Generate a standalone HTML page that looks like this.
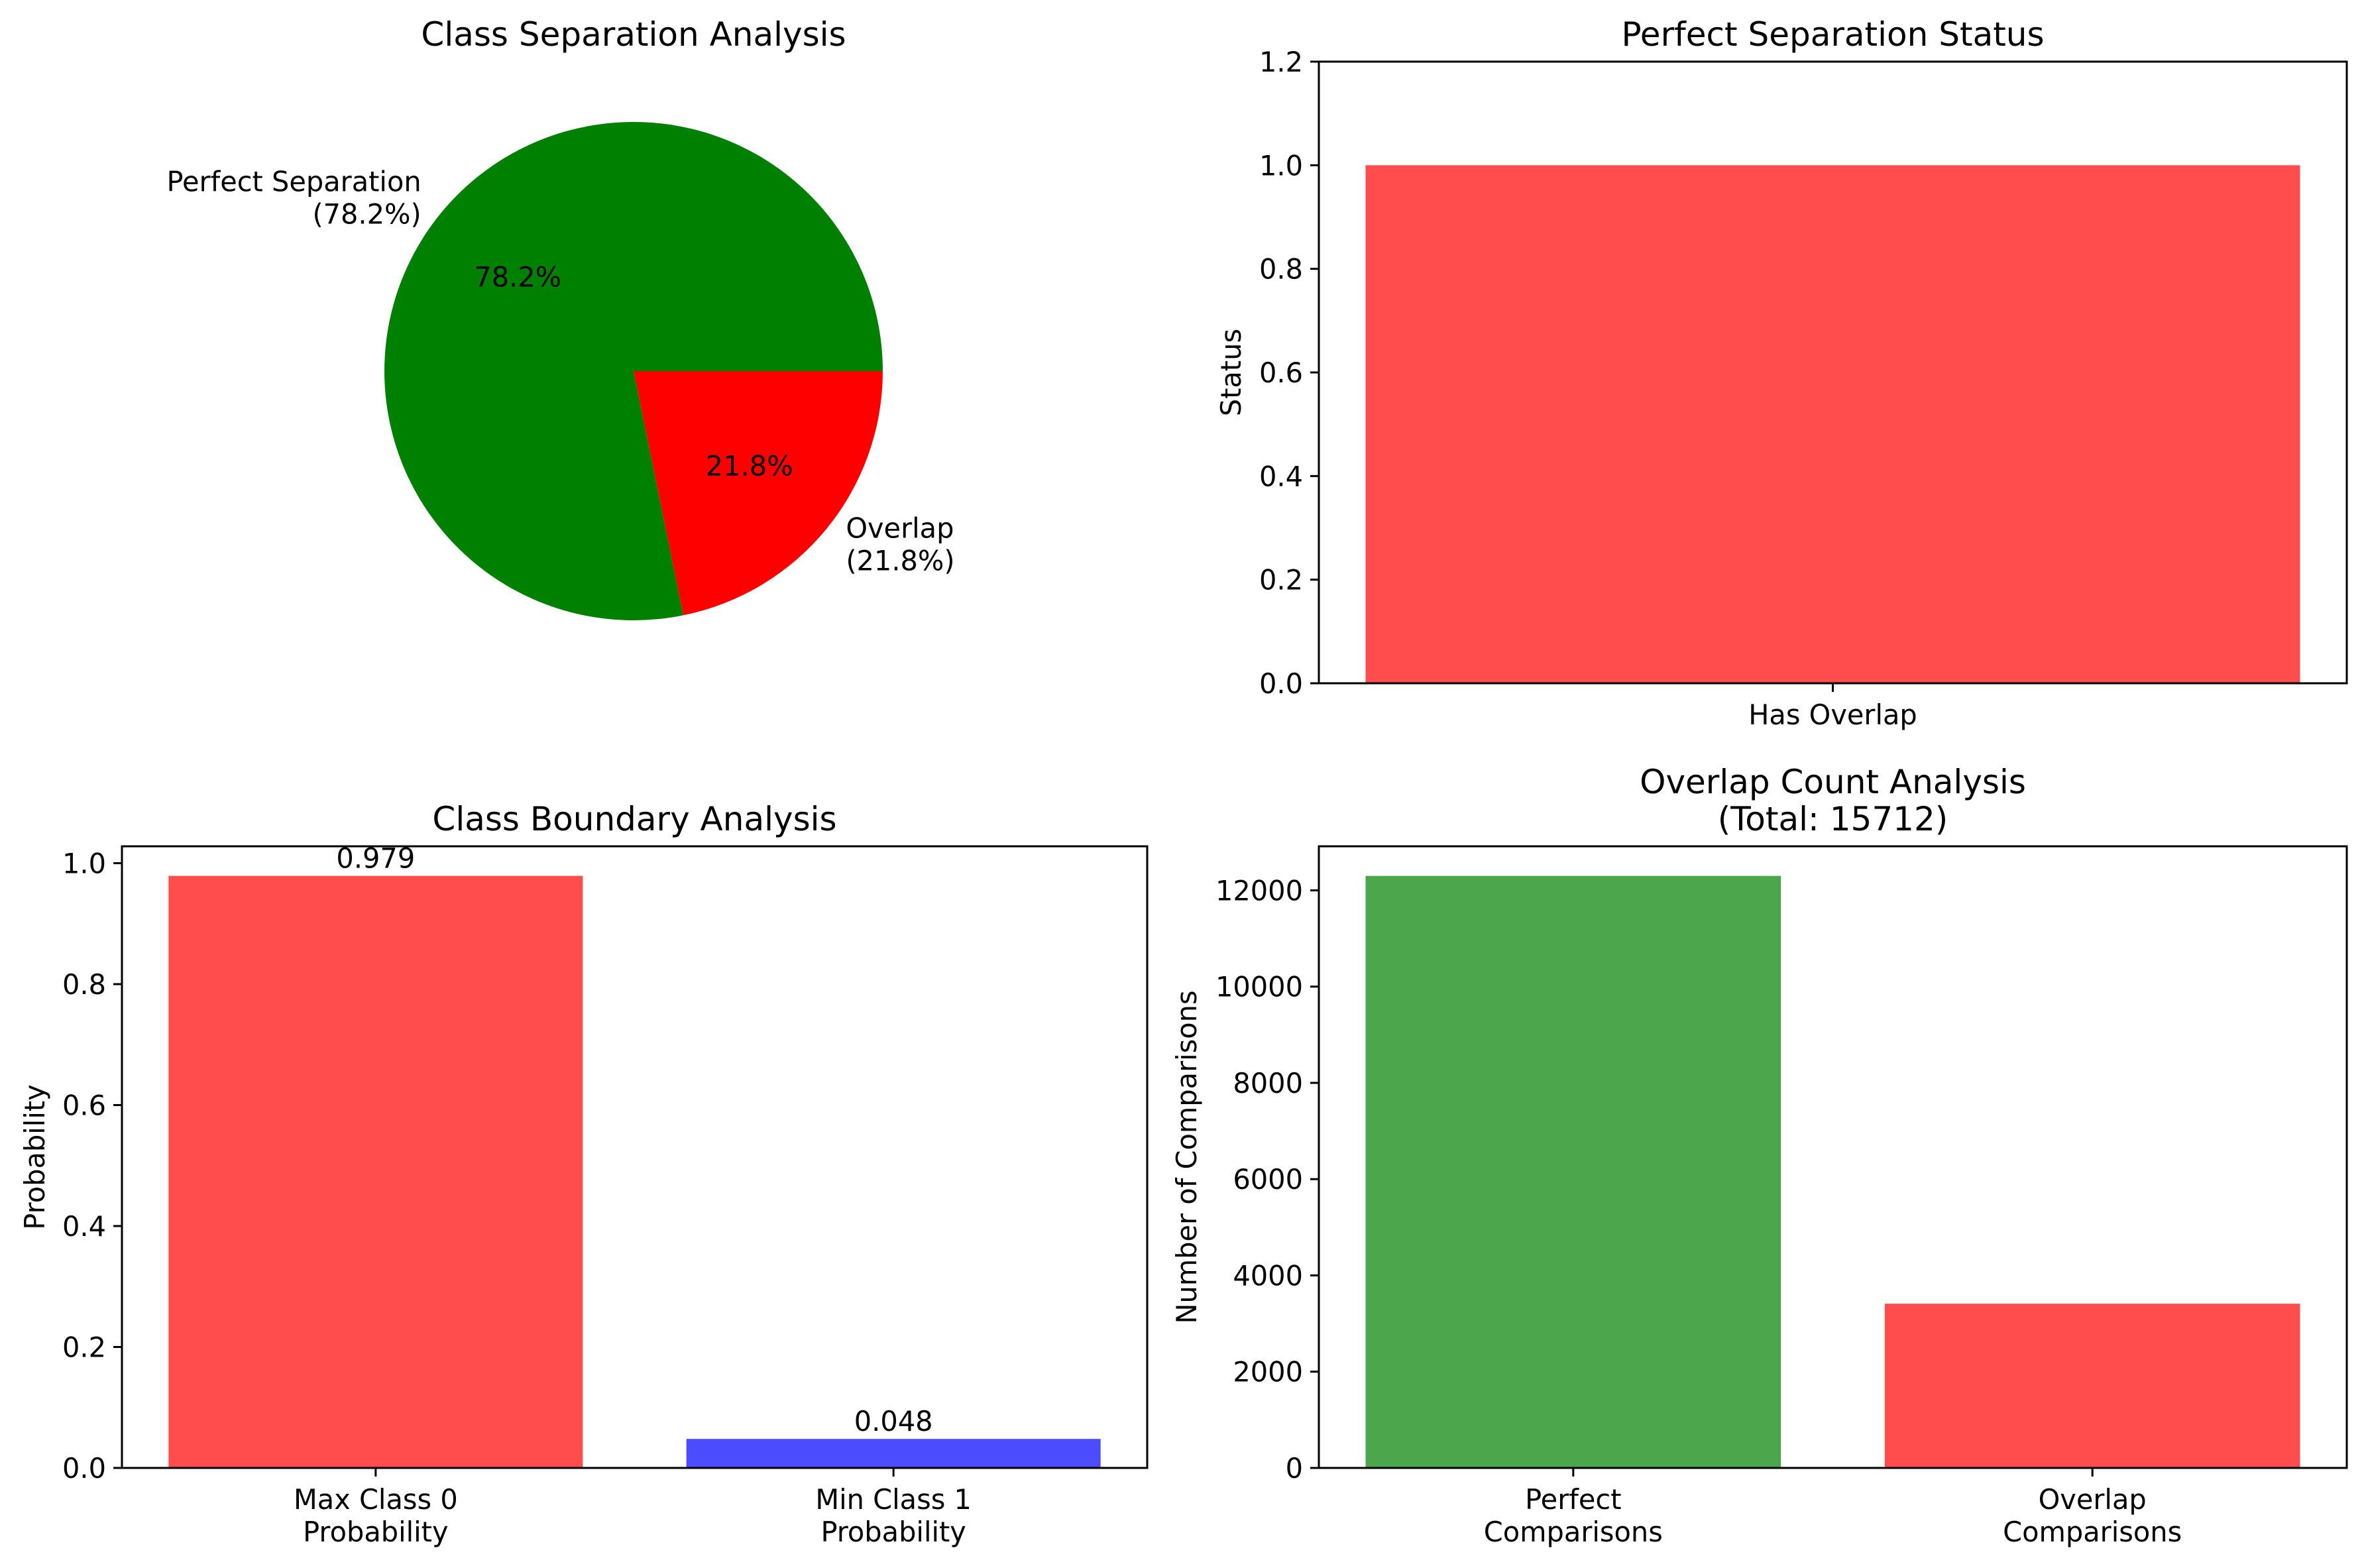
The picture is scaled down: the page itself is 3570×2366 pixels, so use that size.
<!DOCTYPE html>
<html><head><meta charset="utf-8"><style>
html,body{margin:0;padding:0;background:#fff;}
svg{display:block;font-family:"DejaVu Sans","Liberation Sans",sans-serif;}
</style></head><body>
<svg id="fig" xmlns="http://www.w3.org/2000/svg" width="3570" height="2366" viewBox="0 0 3570 2366">
<rect width="3570" height="2366" fill="#fff"/>
</svg>
<script>
// Pie data
const pieLabels = ["Perfect Separation", "Overlap"];
const pieValues = [78.2, 21.8];
const pieColors = ["#008000", "#ff0000"];
// Top-right data
const statusCats = ["Has Overlap"];
const statusVals = [1.0];
const statusTicks = [0, 0.2, 0.4, 0.6, 0.8, 1.0, 1.2];
// Bottom-left data
const boundCats = [["Max Class 0","Probability"],["Min Class 1","Probability"]];
const boundVals = [0.979, 0.048];
const boundLabels = ["0.979", "0.048"];
const boundTicks = [0, 0.2, 0.4, 0.6, 0.8, 1.0];
// Bottom-right data
const countCats = [["Perfect","Comparisons"],["Overlap","Comparisons"]];
const countVals = [12300, 3412];
const countTicks = [0, 2000, 4000, 6000, 8000, 10000, 12000];

const NS = "http://www.w3.org/2000/svg";
const svg = document.getElementById("fig");
function el(tag, attrs, parent, text) {
  const e = document.createElementNS(NS, tag);
  for (const k in attrs) e.setAttribute(k, attrs[k]);
  if (text !== undefined) e.textContent = text;
  (parent || svg).appendChild(e);
  return e;
}
const TF = 41.5, TTF = 50;

function barChart(o) {
  const g = el("g", {});
  
  
  const L = o.x0, R = o.x1, T = o.y0, B = o.y1;
  const n = o.vals.length;
  const xmin = -0.4 - 0.05 * (n - 1 + 0.8), xmax = n - 1 + 0.4 + 0.05 * (n - 1 + 0.8);
  const xs = v => L + (v - xmin) / (xmax - xmin) * (R - L);
  const ys = v => B - v / o.ymax * (B - T);
  o.vals.forEach((v, i) => {
    const r = el("rect", {x: xs(i - 0.4), y: ys(v), width: xs(i + 0.4) - xs(i - 0.4), height: B - ys(v), fill: o.colors[i]}, g);
    
    
    if (o.valLabels) {
      const t = el("text", {x: xs(i), y: ys(v) - 12, "text-anchor": "middle", "font-size": TF}, g, o.valLabels[i]);
      
      
    }
    const lines = Array.isArray(o.cats[i]) ? o.cats[i] : [o.cats[i]];
    el("line", {x1: xs(i), x2: xs(i), y1: B, y2: B + 13, stroke: "#000", "stroke-width": 3}, g);
    lines.forEach((ln, j) => {
      const t = el("text", {x: xs(i), y: B + 62 + j * 49, "text-anchor": "middle", "font-size": TF}, g, ln);
      
      
    });
  });
  o.ticks.forEach(tv => {
    const y = ys(tv);
    el("line", {x1: L - 13, x2: L, y1: y, y2: y, stroke: "#000", "stroke-width": 3}, g);
    const t = el("text", {x: L - 24, y: y + 15, "text-anchor": "end", "font-size": TF}, g, o.fmt(tv));
    
    
  });
  el("rect", {x: L, y: T, width: R - L, height: B - T, fill: "none", stroke: "#000", "stroke-width": 3}, g);
  const yl = el("text", {x: o.ylx, y: (T + B) / 2, "text-anchor": "middle", "font-size": TF, transform: `rotate(-90 ${o.ylx} ${(T + B) / 2})`}, g, o.ylabel);
  
  
  o.title.forEach((tl, j) => {
    const t = el("text", {x: (L + R) / 2, y: T - 24 - (o.title.length - 1 - j) * 56, "text-anchor": "middle", "font-size": TTF}, g, tl);
    
    
  });
}

// Pie
(function(){
  const g = el("g", {});
  
  
  const cx = 956, cy = 560, r = 376;
  const total = pieValues.reduce((a, b) => a + b, 0);
  let a0 = 0;
  pieValues.forEach((v, i) => {
    const a1 = a0 + v / total * 360;
    const p = a => [cx + r * Math.cos(a * Math.PI / 180), cy - r * Math.sin(a * Math.PI / 180)];
    const s = p(a0), e = p(a1);
    const large = (a1 - a0) > 180 ? 1 : 0;
    const path = el("path", {d: `M${cx},${cy} L${s[0]},${s[1]} A${r},${r} 0 ${large} 0 ${e[0]},${e[1]} Z`, fill: pieColors[i]}, g);
    
    
    const mid = (a0 + a1) / 2 * Math.PI / 180;
    const c = Math.cos(mid), sn = Math.sin(mid);
    const pct = (v / total * 100).toFixed(1) + "%";
    const pt = el("text", {x: cx + 0.6 * r * c, y: cy - 0.6 * r * sn + 15, "text-anchor": "middle", "font-size": TF}, g, pct);
    
    
    const lx = cx + 1.1 * r * c, ly = cy - 1.1 * r * sn;
    const anchor = c < 0 ? "end" : "start";
    [pieLabels[i], "(" + pct + ")"].forEach((ln, j) => {
      const t = el("text", {x: lx, y: ly - 10 + j * 49, "text-anchor": anchor, "font-size": TF}, g, ln);
      
      
    });
    a0 = a1;
  });
  const t = el("text", {x: cx, y: 69, "text-anchor": "middle", "font-size": TTF}, g, "Class Separation Analysis");
  
  
})();

barChart({name: "status-chart", x0: 1990, x1: 3541, y0: 93, y1: 1031, vals: statusVals, cats: statusCats,
  colors: ["#ff4c4c"], ymax: 1.2, ticks: statusTicks, fmt: v => v.toFixed(1), ylabel: "Status", ylx: 1872,
  title: ["Perfect Separation Status"]});
barChart({name: "boundary-chart", x0: 184, x1: 1731, y0: 1277, y1: 2215, vals: boundVals, cats: boundCats,
  colors: ["#ff4c4c", "#4c4cff"], ymax: 0.979 * 1.05, ticks: boundTicks, fmt: v => v.toFixed(1), ylabel: "Probability", ylx: 67,
  valLabels: boundLabels, title: ["Class Boundary Analysis"]});
barChart({name: "count-chart", x0: 1990, x1: 3541, y0: 1277, y1: 2215, vals: countVals, cats: countCats,
  colors: ["#4ca64c", "#ff4c4c"], ymax: countVals[0] * 1.05, ticks: countTicks, fmt: v => String(v), ylabel: "Number of Comparisons", ylx: 1805,
  title: ["Overlap Count Analysis", "(Total: " + (countVals[0] + countVals[1]) + ")"]});
</script>
</body></html>
